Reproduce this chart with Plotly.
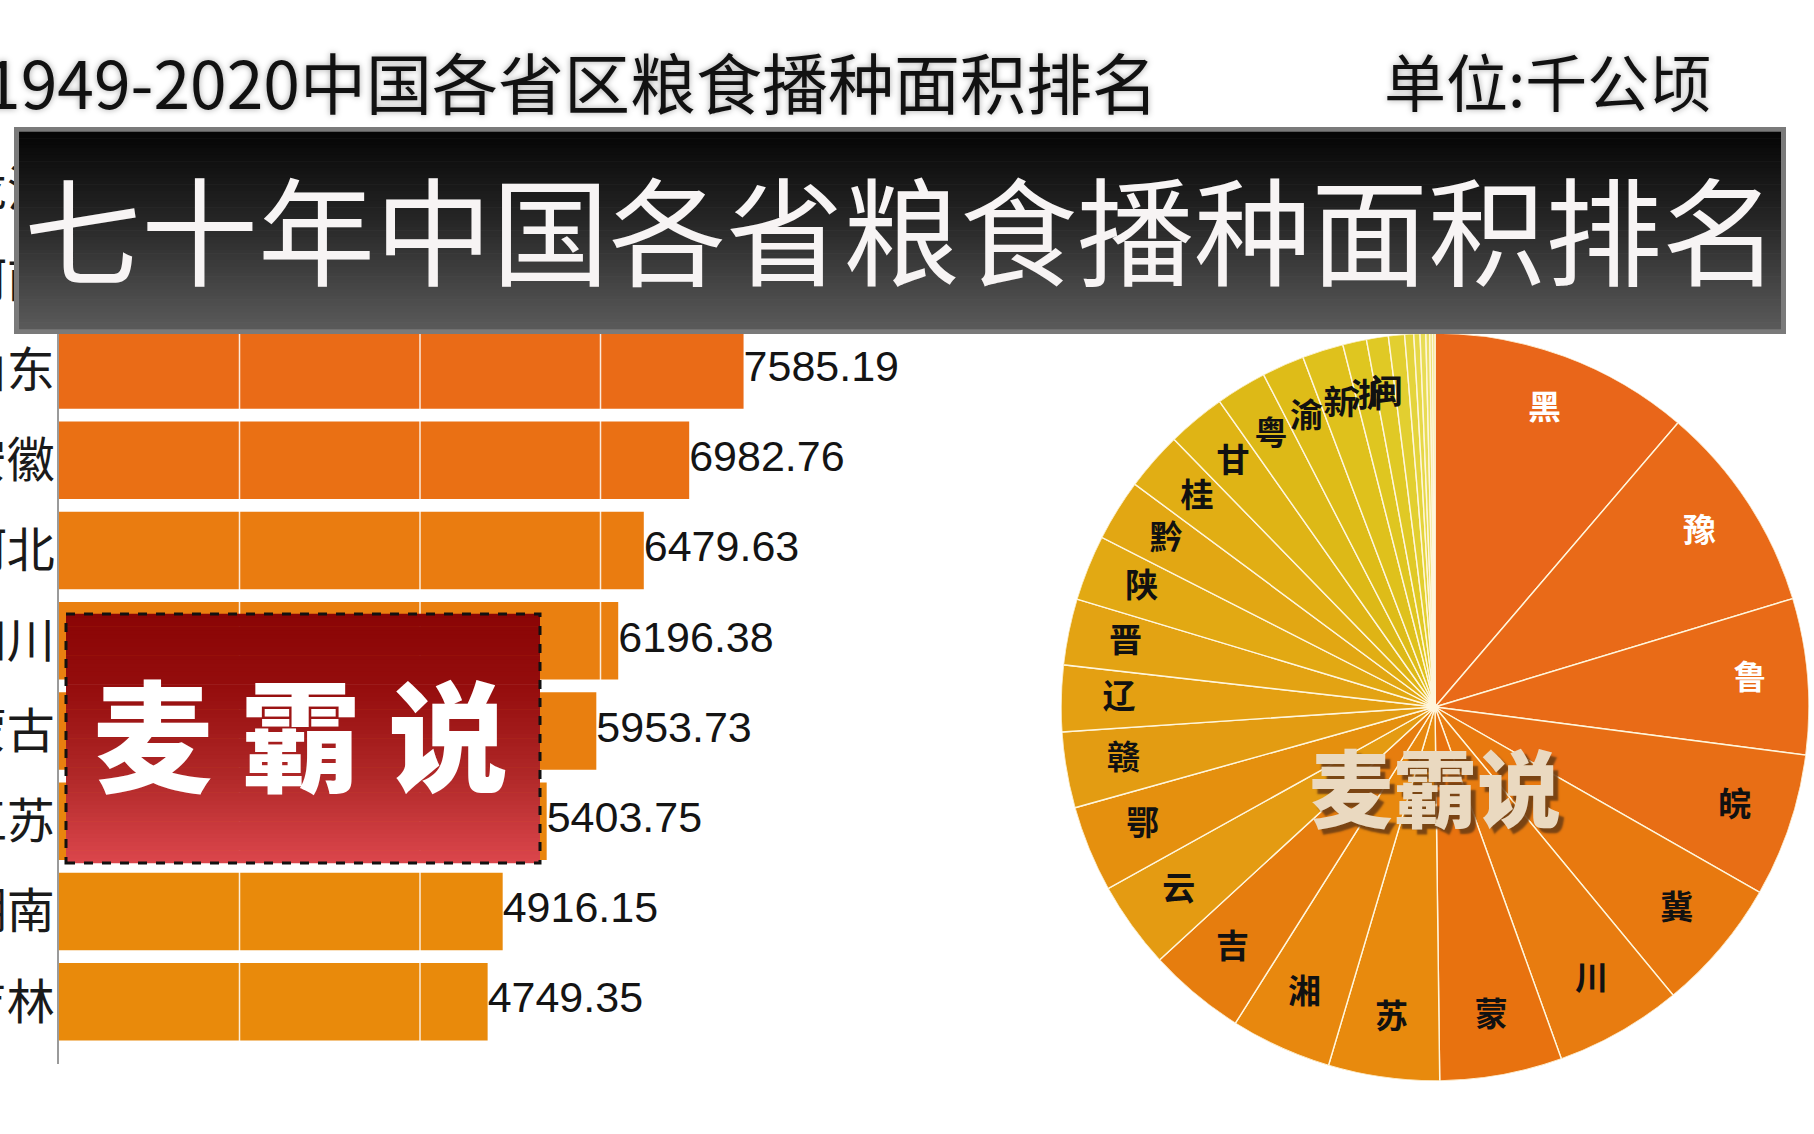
import plotly.graph_objects as go

W, H = 1814, 1134

# ---------------- data ----------------
bar_provinces = ["黑龙江", "河南", "山东", "安徽", "河北", "四川", "内蒙古", "江苏", "湖南", "吉林"]
bar_values = [12680.0, 10200.0, 7585.19, 6982.76, 6479.63, 6196.38, 5953.73, 5403.75, 4916.15, 4749.35]
grid_ticks = [2000, 4000, 6000]

pie_labels = ["黑", "豫", "鲁", "皖", "冀", "川", "蒙", "苏", "湘", "吉",
              "云", "鄂", "赣", "辽", "晋", "陕", "黔", "桂", "甘", "粤",
              "渝", "新", "浙", "闽", "宁", "琼", "青", "津", "藏", "京", "沪"]
pie_values = [12680.0, 10200.0, 7585.19, 6982.76, 6479.63, 6196.38, 5953.73, 5403.75, 4916.15, 4749.35,
              4226, 4194, 3693, 3224, 3220, 3193, 3005, 2860, 2840, 2473,
              2066, 2003, 1158, 1064, 783, 440, 300, 280, 190, 130, 120]

title_text = "1949-2020中国各省区粮食播种面积排名"
unit_text = "单位:千公顷"
banner_text = "七十年中国各省粮食播种面积排名"
logo_text = "麦 霸 说"
watermark_text = "麦霸说"

# ---------------- styles ----------------
bar_colors = ["#E8621B", "#E8661A", "#EA6B17", "#EA7014", "#EA7C10", "#EA8010",
              "#E97F0F", "#E9850D", "#E98A0B", "#E98A0B"]
pie_colors = ["#E9661A", "#E96A18", "#E96B17", "#E86E15", "#E8790F", "#E87C10", "#E8720F",
              "#E88A0D", "#E8880E", "#E67D0E", "#E49B12", "#E5900E", "#E39C12", "#E4A012",
              "#E3A313", "#E2A913", "#E2A713", "#E1AE14", "#DFB415", "#DDB917", "#DEBC18",
              "#DFC11C", "#DFC620", "#E0C925", "#E2CF30", "#E4D43C", "#E6D848", "#E8DC55",
              "#EADF62", "#ECE270", "#EEE57E"]
pie_text_colors = ["white"] * 3 + ["#111111"] * (len(pie_labels) - 3)
CJK = "Noto Sans CJK SC"


def px_x(x):
    return x / W


def px_y(y):
    return 1 - y / H


# ---------------- pie geometry from data ----------------
total = sum(pie_values)
widths = [v / total * 360.0 for v in pie_values]
mids = []
acc = 0.0
for w in widths:
    mids.append(acc + w / 2.0)
    acc += w
shown_labels = [lab if w > 3.0 else "" for lab, w in zip(pie_labels, widths)]

fig = go.Figure()

# ---------------- bar chart ----------------
rows = list(range(len(bar_provinces)))
fig.add_trace(go.Bar(
    x=bar_values, y=rows, orientation="h",
    marker=dict(color=bar_colors, line=dict(width=0)),
    hoverinfo="skip", showlegend=False,
))
# white gridlines drawn over bars
gx, gy = [], []
for t in grid_ticks:
    gx += [t, t, None]
    gy += [-0.7, len(rows) - 0.3, None]
fig.add_trace(go.Scatter(
    x=gx, y=gy, mode="lines", line=dict(color="rgba(255,255,255,0.85)", width=1.5),
    hoverinfo="skip", showlegend=False,
))
fig.add_trace(go.Scatter(
    x=bar_values, y=rows, mode="text",
    text=[f"{v:.2f}" for v in bar_values], textposition="middle right",
    textfont=dict(family="Liberation Sans", size=43, color="#141414"),
    hoverinfo="skip", showlegend=False, cliponaxis=False,
))

x_left, x_right = 59, 1000
px_per_unit = 0.09025
fig.update_layout(
    xaxis=dict(domain=[px_x(x_left), px_x(x_right)],
               range=[0, (x_right - x_left) / px_per_unit],
               visible=False, fixedrange=True, automargin=False),
    yaxis=dict(domain=[px_y(1064), px_y(130)],
               range=[9.69, -0.66],
               tickvals=rows, ticktext=bar_provinces,
               tickfont=dict(family=CJK, size=48, color="#1a1a1a"),
               showgrid=False, zeroline=False,
               showline=True, linecolor="#9a9a9a", linewidth=1.5,
               ticks="", ticklabelstandoff=-7, automargin=False),
    bargap=0.14,
)

# ---------------- pie (as polar wedges) ----------------
fig.add_trace(go.Barpolar(
    r=[1] * len(pie_values), theta=mids, width=widths,
    marker=dict(color=pie_colors, line=dict(color="#FFF6DC", width=1.4)),
    hoverinfo="skip", showlegend=False, subplot="polar",
))
fig.add_trace(go.Scatterpolar(
    r=[0.845] * len(pie_values), theta=mids, text=shown_labels, mode="text",
    textfont=dict(family=CJK, size=33, color=pie_text_colors, weight="bold"),
    hoverinfo="skip", showlegend=False, subplot="polar",
))
fig.update_layout(
    polar=dict(
        domain=dict(x=[px_x(1061), px_x(1809)], y=[px_y(1081), px_y(333)]),
        bgcolor="rgba(0,0,0,0)",
        radialaxis=dict(visible=False, range=[0, 1]),
        angularaxis=dict(visible=False, rotation=90, direction="clockwise", thetaunit="degrees"),
        hole=0,
    )
)

# ---------------- decorations ----------------
shapes = []


def hex2rgb(h):
    h = h.lstrip("#")
    return tuple(int(h[i:i + 2], 16) for i in (0, 2, 4))


def interp(stops, t):
    for (t0, c0), (t1, c1) in zip(stops[:-1], stops[1:]):
        if t0 <= t <= t1:
            f = (t - t0) / (t1 - t0) if t1 > t0 else 0
            a, b = hex2rgb(c0), hex2rgb(c1)
            return "rgb(%d,%d,%d)" % tuple(round(a[k] + (b[k] - a[k]) * f) for k in range(3))
    return stops[-1][1]


def grad_rect(x0, y0, x1, y1, stops, n=60):
    step = (y1 - y0) / n
    for i in range(n):
        t = (i + 0.5) / n
        shapes.append(dict(type="rect", xref="paper", yref="paper",
                           x0=px_x(x0), x1=px_x(x1),
                           y0=px_y(y0 + step * i - 0.3), y1=px_y(y0 + step * (i + 1) + 0.3),
                           fillcolor=interp(stops, t), line=dict(width=0), layer="above"))


# banner
shapes.append(dict(type="rect", xref="paper", yref="paper",
                   x0=px_x(14), x1=px_x(1786), y0=px_y(334), y1=px_y(127),
                   fillcolor="#7a7a7a", line=dict(width=0), layer="above"))
grad_rect(19, 132, 1781, 329, [(0, "#050505"), (0.45, "#262626"), (1, "#5a5a5a")])

# red logo box
grad_rect(66, 614, 540, 863, [(0, "#8a0505"), (0.3, "#950d0d"), (0.65, "#b02828"), (1, "#db464c")])
shapes.append(dict(type="rect", xref="paper", yref="paper",
                   x0=px_x(66), x1=px_x(540), y0=px_y(863), y1=px_y(614),
                   fillcolor="rgba(0,0,0,0)", line=dict(color="#111111", width=3, dash="dash"),
                   layer="above"))

annotations = [
    dict(text=title_text, x=px_x(1160), y=px_y(80), xref="paper", yref="paper",
         xanchor="right", yanchor="middle", showarrow=False,
         font=dict(family=CJK, size=66, color="#111111", shadow="0px 0px 6px rgba(0,0,0,0.35)")),
    dict(text=unit_text, x=px_x(1547), y=px_y(80), xref="paper", yref="paper",
         xanchor="center", yanchor="middle", showarrow=False,
         font=dict(family=CJK, size=62, color="#111111", shadow="0px 0px 6px rgba(0,0,0,0.35)")),
    dict(text=banner_text, x=px_x(901), y=px_y(226), xref="paper", yref="paper",
         xanchor="center", yanchor="middle", showarrow=False,
         font=dict(family=CJK, size=117, color="#F7F4F4")),
    dict(text=logo_text, x=px_x(300), y=px_y(731), xref="paper", yref="paper",
         xanchor="center", yanchor="middle", showarrow=False,
         font=dict(family=CJK, size=120, color="#FFFFFF", weight=900)),
    dict(text=watermark_text, x=px_x(1435), y=px_y(784), xref="paper", yref="paper",
         xanchor="center", yanchor="middle", showarrow=False,
         font=dict(family=CJK, size=84, color="#EAD9C0", weight=900,
                   shadow="5px 5px 2px rgba(110,62,20,0.9)")),
]

fig.update_layout(
    width=W, height=H,
    margin=dict(l=0, r=0, t=0, b=0),
    paper_bgcolor="white", plot_bgcolor="white",
    showlegend=False,
    shapes=shapes,
    annotations=annotations,
)

fig.write_html("out.html")
